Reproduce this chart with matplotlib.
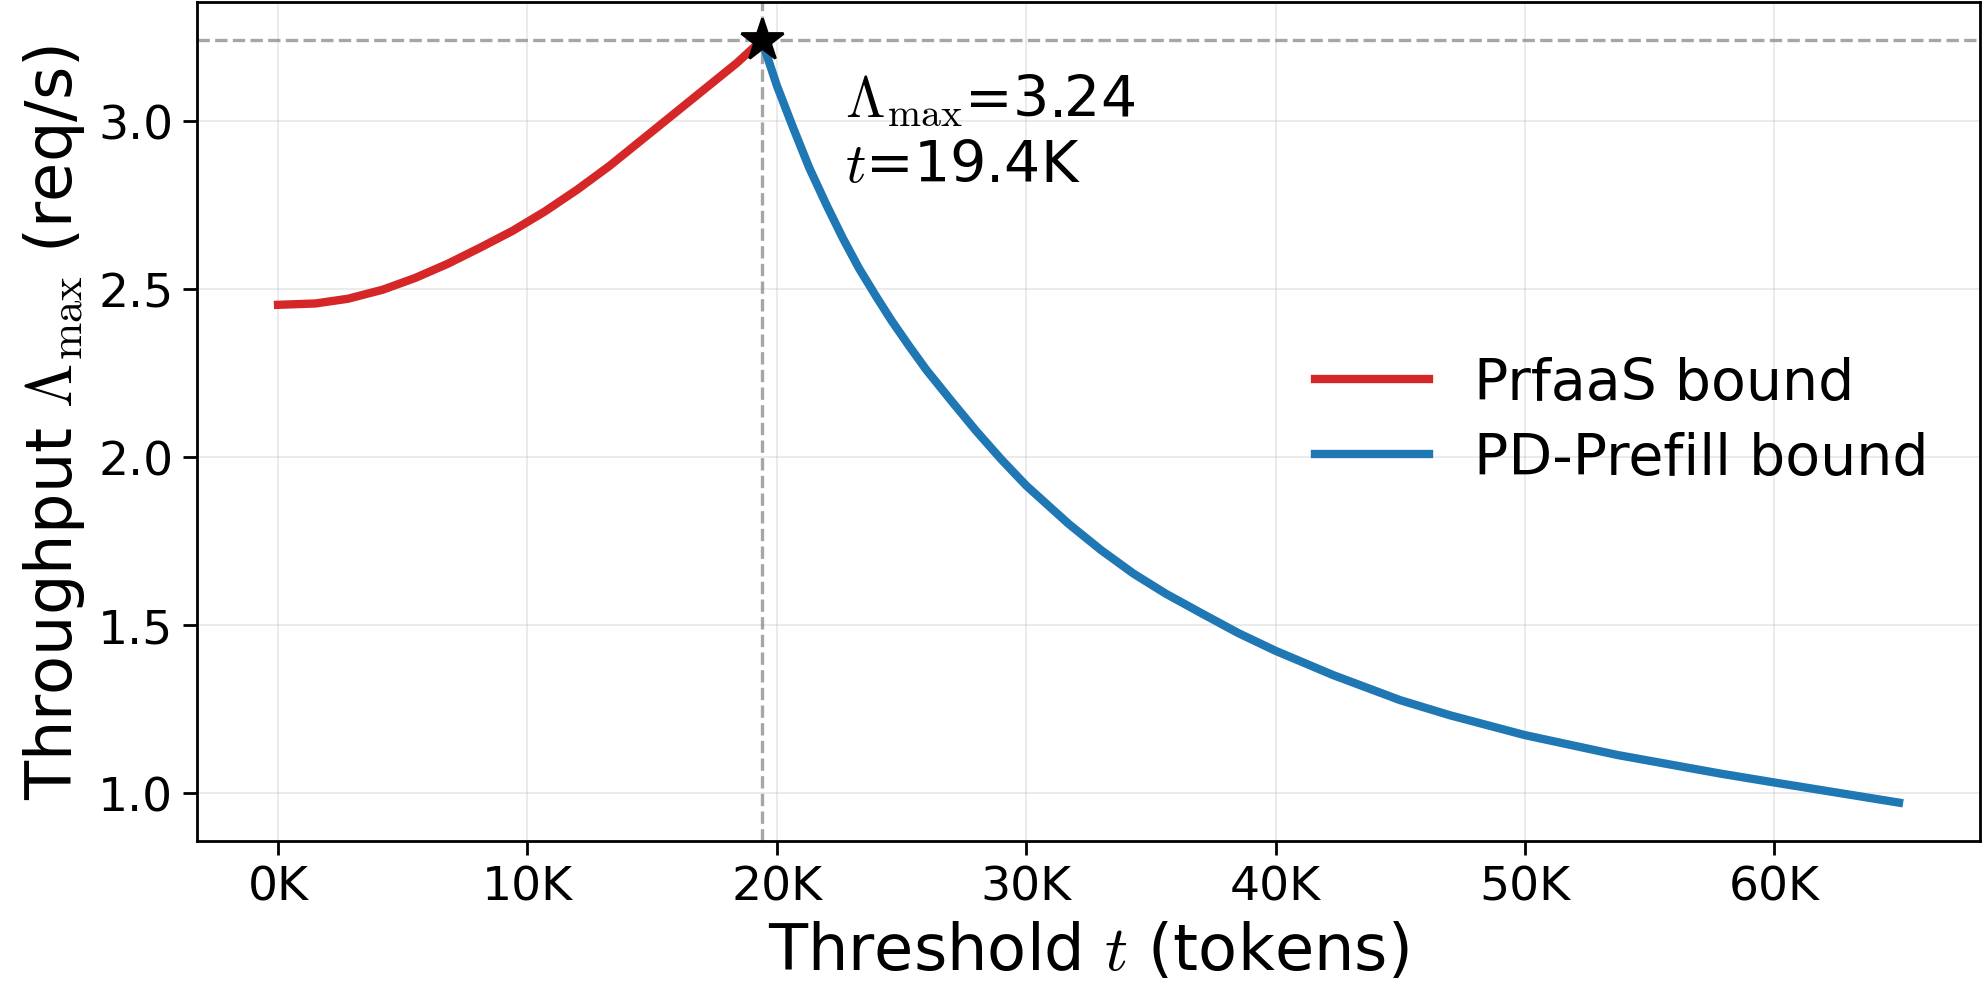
import numpy as np
import matplotlib as mpl
mpl.use('Agg')
import matplotlib.pyplot as plt
from matplotlib.ticker import FuncFormatter

plt.rcParams['mathtext.fontset'] = 'cm'
plt.rcParams['font.family'] = 'DejaVu Sans'

# PrfaaS bound (threshold in tokens, throughput req/s)
prfaas_t = [0, 1500, 2800, 4200, 5500, 6800, 8100, 9400, 10700, 12000,
            13300, 14600, 15900, 17200, 18400, 19400]
prfaas_y = [2.452, 2.456, 2.470, 2.497, 2.532, 2.574, 2.622, 2.672, 2.730, 2.795,
            2.866, 2.944, 3.022, 3.100, 3.172, 3.240]

# PD-Prefill bound
pd_t = [19400, 20000, 20650, 21300, 22000, 22650, 23300, 24000, 24600, 25300,
        26000, 27000, 28000, 29000, 30000, 31700, 33000, 34300, 35600, 37000,
        38500, 40000, 42300, 45000, 47000, 50000, 53700, 57800, 60000, 65000]
pd_y = [3.240, 3.105, 2.980, 2.860, 2.748, 2.650, 2.560, 2.475, 2.405, 2.330,
        2.258, 2.166, 2.076, 1.992, 1.914, 1.800, 1.722, 1.652, 1.592, 1.535,
        1.475, 1.422, 1.350, 1.275, 1.230, 1.171, 1.112, 1.057, 1.030, 0.970]

t_star = 19400
lam_star = 3.24

fig, ax = plt.subplots(figsize=(9.92, 4.975), dpi=200)
fig.subplots_adjust(left=0.0993, right=0.998, bottom=0.154, top=0.997)

ax.plot(prfaas_t, prfaas_y, color='tab:red', lw=3.0, label='PrfaaS bound', zorder=3)
ax.plot(pd_t, pd_y, color='tab:blue', lw=3.0, label='PD-Prefill bound', zorder=3)

# optimum marker + guide lines
ax.axvline(t_star, color='gray', ls='--', lw=1.2, alpha=0.7, zorder=2)
ax.axhline(lam_star, color='gray', ls='--', lw=1.2, alpha=0.7, zorder=2)
ax.plot([t_star], [lam_star], marker='*', color='black', ms=16, zorder=5, ls='none')

ax.text(t_star + 3350, 3.015, r'$\Lambda_{\max}$=3.24', fontsize=20.5, ha='left', va='baseline')
ax.text(t_star + 3350, 2.822, r'$t$=19.4K', fontsize=20.5, ha='left', va='baseline')

ax.xaxis.set_major_formatter(FuncFormatter(lambda x, p: f'{x/1000:.0f}K'))
ax.tick_params(labelsize=17, length=5, width=1)
ax.set_xlabel(r'Threshold $t$ (tokens)', fontsize=23)
ax.set_ylabel(r'Throughput $\Lambda_{\max}$ (req/s)', fontsize=23)
ax.grid(True, alpha=0.3, lw=0.6)
for s in ax.spines.values():
    s.set_linewidth(1.0)

ax.legend(loc='center right', frameon=False, fontsize=20.5, labelspacing=0.35)

plt.savefig('out.png', dpi=200)
